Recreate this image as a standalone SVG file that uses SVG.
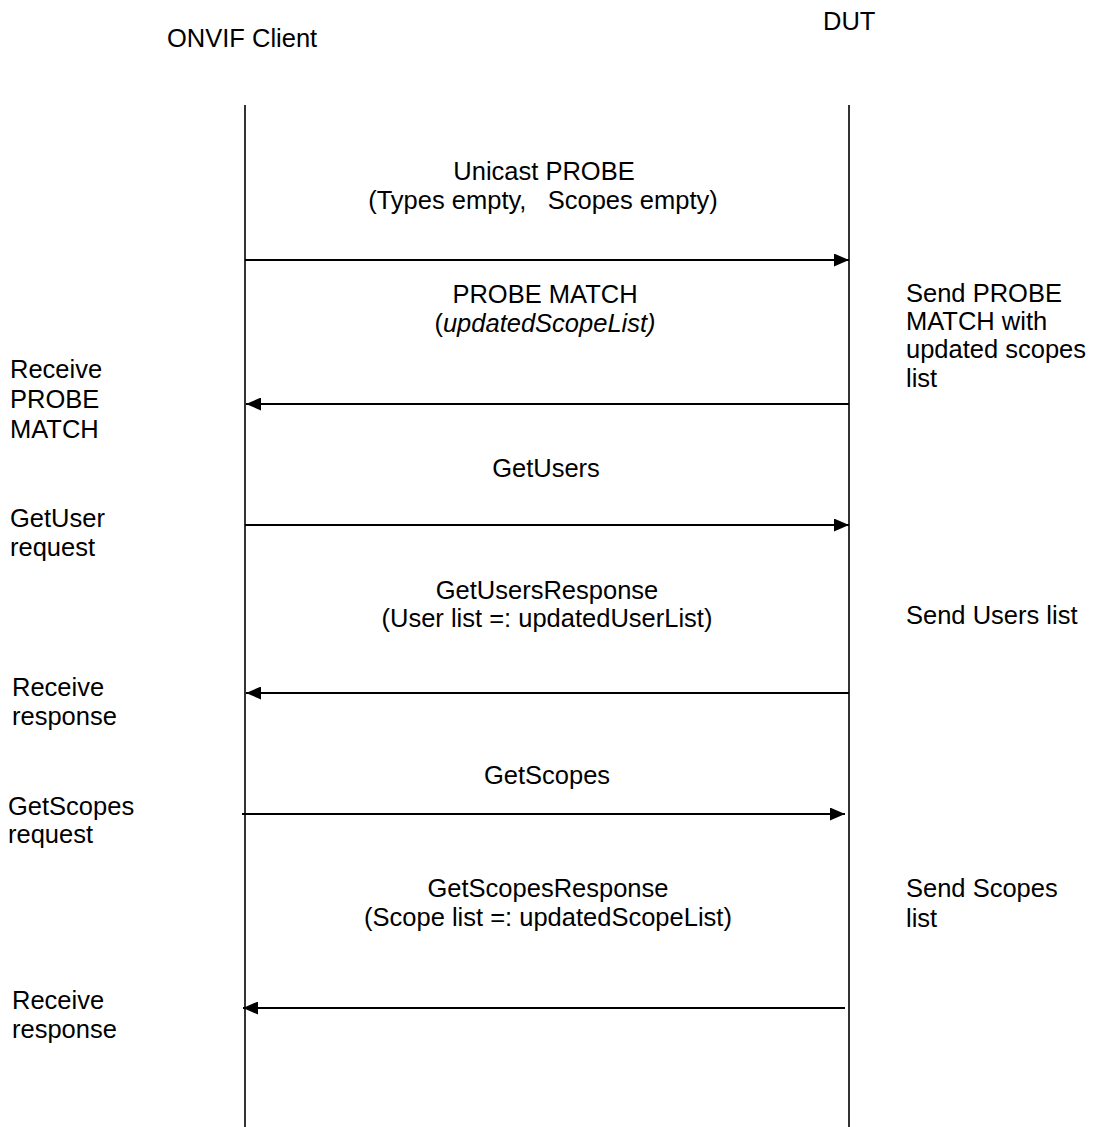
<svg xmlns="http://www.w3.org/2000/svg" width="1098" height="1127" viewBox="0 0 1098 1127">
<style>
text{font-family:"Liberation Sans",Arial,sans-serif;font-size:25.5px;fill:#000}
.c{text-anchor:middle}
.life{stroke:#000;stroke-width:1.6;fill:none}
.msg{stroke:#000;stroke-width:2.2;fill:none}
</style>
<defs>
<marker id="ah" viewBox="0 0 15 13" refX="15" refY="6.5" markerWidth="15" markerHeight="13" markerUnits="userSpaceOnUse" orient="auto">
<path d="M0,0 L15,6.5 L0,13 Z" fill="#000"/>
</marker>
</defs>
<rect width="1098" height="1127" fill="#fff"/>
<g id="client">
<text x="167" y="47">ONVIF Client</text>
<line class="life" x1="245" y1="105" x2="245" y2="1127"/>
</g>
<g id="dut">
<text x="823" y="30">DUT</text>
<line class="life" x1="849" y1="105" x2="849" y2="1127"/>
</g>
<g id="connectors">
<line class="msg" x1="245" y1="260" x2="849" y2="260" marker-end="url(#ah)"/>
<line class="msg" x1="849" y1="404" x2="246" y2="404" marker-end="url(#ah)"/>
<line class="msg" x1="245" y1="525" x2="849" y2="525" marker-end="url(#ah)"/>
<line class="msg" x1="849" y1="693" x2="246" y2="693" marker-end="url(#ah)"/>
<line class="msg" x1="242" y1="814" x2="845" y2="814" marker-end="url(#ah)"/>
<line class="msg" x1="845" y1="1008" x2="243" y2="1008" marker-end="url(#ah)"/>
</g>
<g id="labels">
<text class="c" x="544" y="180">Unicast PROBE</text>
<text class="c" x="543" y="209" xml:space="preserve">(Types empty,   Scopes empty)</text>
<text class="c" x="545" y="303">PROBE MATCH</text>
<text class="c" x="545" y="332">(<tspan font-style="italic">updatedScopeList)</tspan></text>
<text class="c" x="546" y="477">GetUsers</text>
<text class="c" x="547" y="599">GetUsersResponse</text>
<text class="c" x="547" y="627">(User list =: updatedUserList)</text>
<text class="c" x="547" y="784">GetScopes</text>
<text class="c" x="548" y="897">GetScopesResponse</text>
<text class="c" x="548" y="926">(Scope list =: updatedScopeList)</text>
</g>
<g id="dut-notes">
<text x="906" y="302">Send PROBE</text>
<text x="906" y="330">MATCH with</text>
<text x="906" y="358">updated scopes</text>
<text x="906" y="387">list</text>
<text x="906" y="624">Send Users list</text>
<text x="906" y="897">Send Scopes</text>
<text x="906" y="927">list</text>
</g>
<g id="client-notes">
<text x="10" y="378">Receive</text>
<text x="10" y="408">PROBE</text>
<text x="10" y="438">MATCH</text>
<text x="10" y="527">GetUser</text>
<text x="10" y="556">request</text>
<text x="12" y="696">Receive</text>
<text x="12" y="725">response</text>
<text x="8" y="815">GetScopes</text>
<text x="8" y="843">request</text>
<text x="12" y="1009">Receive</text>
<text x="12" y="1038">response</text>
</g>
</svg>
